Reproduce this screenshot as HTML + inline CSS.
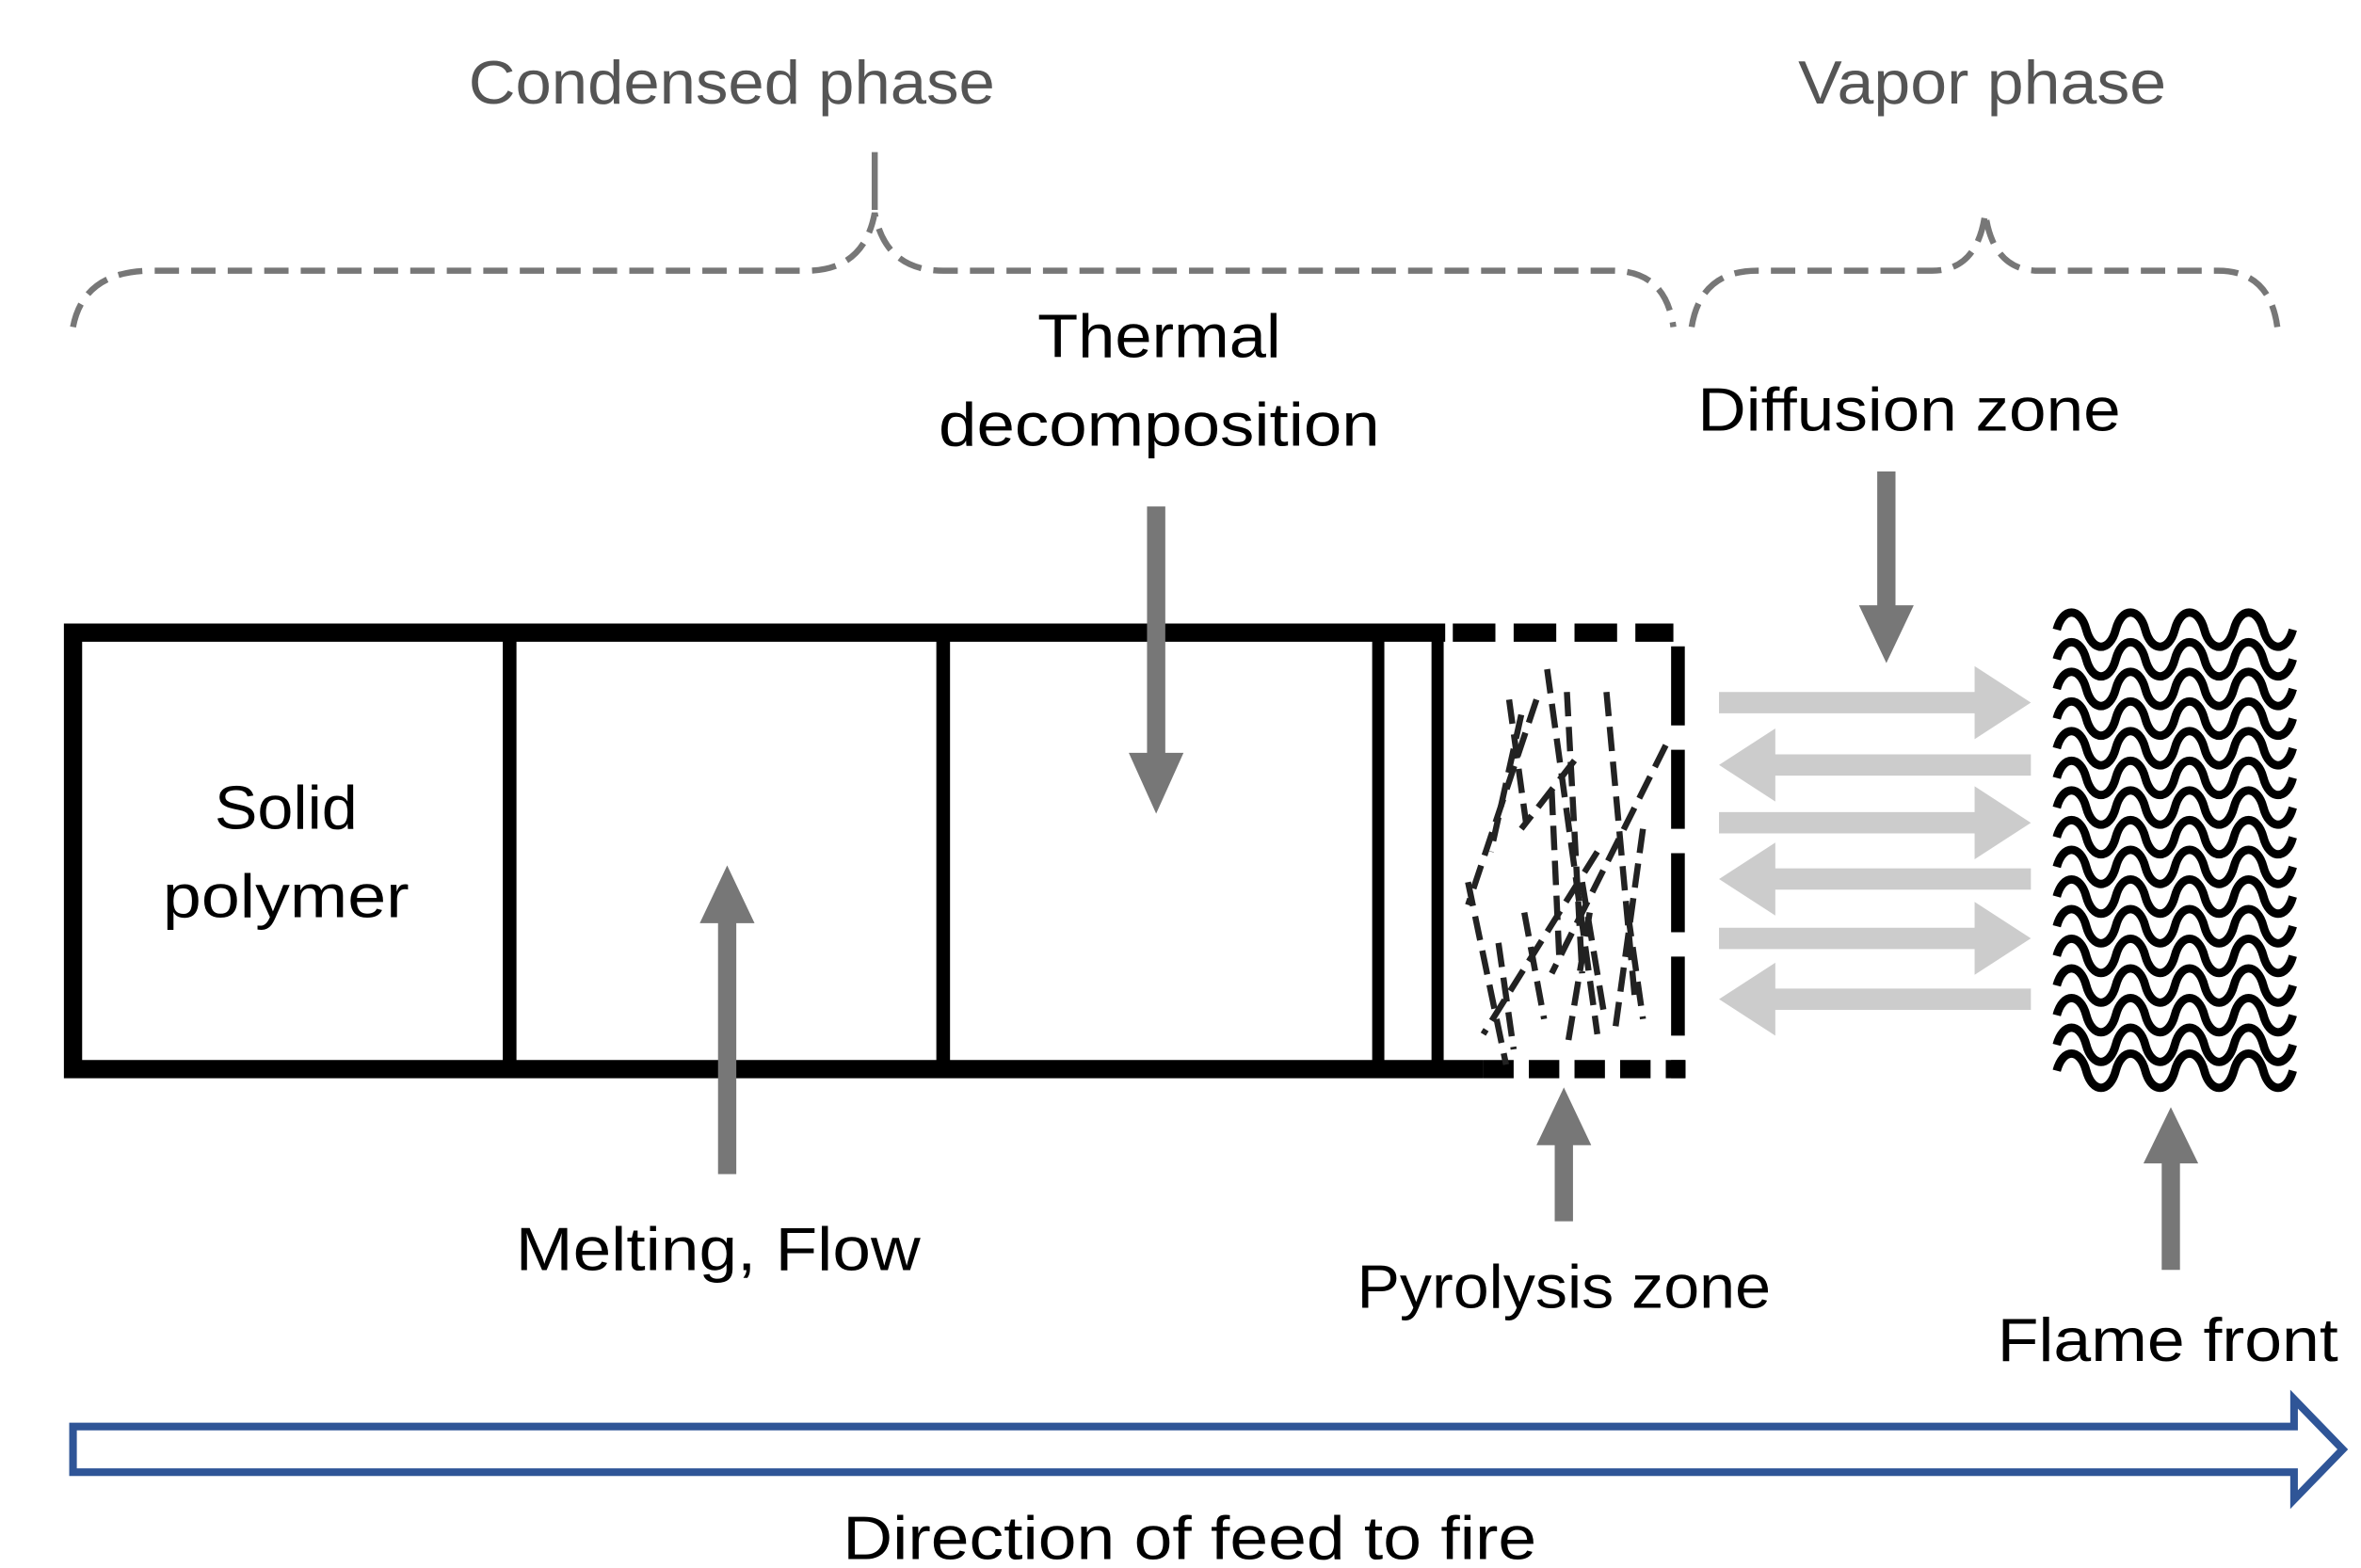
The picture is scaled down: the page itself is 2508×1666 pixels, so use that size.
<!DOCTYPE html>
<html><head><meta charset="utf-8"><style>html,body{margin:0;padding:0;background:#fff}svg{display:block}text{font-family:"Liberation Sans",sans-serif;font-size:40px}</style></head>
<body>
<svg width="2508" height="1666" viewBox="0 0 1552 1031" preserveAspectRatio="none" xmlns="http://www.w3.org/2000/svg">
<defs>
<path id="w" d="M1352,0 c4,-15 15.4,-15 19.4,0 c4,15 15.4,15 19.4,0 c4,-15 15.4,-15 19.4,0 c4,15 15.4,15 19.4,0 c4,-15 15.4,-15 19.4,0 c4,15 15.4,15 19.4,0 c4,-15 15.4,-15 19.4,0 c4,15 15.4,15 19.4,0" fill="none" stroke="#000" stroke-width="5.5"/>
</defs>
<rect width="1552" height="1031" fill="#fff"/>
<text x="481" y="68" text-anchor="middle" fill="#555" textLength="346" lengthAdjust="spacingAndGlyphs">Condensed phase</text>
<text x="1303" y="68" text-anchor="middle" fill="#555" textLength="242" lengthAdjust="spacingAndGlyphs">Vapor phase</text>
<g fill="none" stroke="#777" stroke-width="4" stroke-dasharray="16,8">
<path d="M48,215 Q55,178 100,178 L530,178 Q568,178 575,140 Q582,178 620,178 L1060,178 Q1095,178 1100,215"/>
<path d="M1112,215 Q1118,178 1155,178 L1270,178 Q1300,178 1305,140 Q1310,178 1340,178 L1458,178 Q1492,178 1497,215"/>
</g>
<line x1="575" y1="100" x2="575" y2="138" stroke="#777" stroke-width="4"/>
<text x="762" y="235" text-anchor="middle" textLength="160" lengthAdjust="spacingAndGlyphs">Thermal</text>
<text x="762" y="293" text-anchor="middle" textLength="290" lengthAdjust="spacingAndGlyphs">decomposition</text>
<text x="1255" y="283" text-anchor="middle" textLength="278" lengthAdjust="spacingAndGlyphs">Diffusion zone</text>
<text x="188" y="545" text-anchor="middle" textLength="94" lengthAdjust="spacingAndGlyphs">Solid</text>
<text x="188" y="603" text-anchor="middle" textLength="162" lengthAdjust="spacingAndGlyphs">polymer</text>
<text x="472" y="835" text-anchor="middle" textLength="266" lengthAdjust="spacingAndGlyphs">Melting, Flow</text>
<text x="1028" y="860" text-anchor="middle" textLength="272" lengthAdjust="spacingAndGlyphs">Pyrolysis zone</text>
<text x="1425" y="895" text-anchor="middle" textLength="224" lengthAdjust="spacingAndGlyphs">Flame front</text>
<text x="782" y="1025" text-anchor="middle" textLength="456" lengthAdjust="spacingAndGlyphs">Direction of feed to fire</text>
<g stroke="#000" fill="none">
<path d="M950,416 L48,416 L48,703 L975,703" stroke-width="12"/>
<line x1="335" y1="416" x2="335" y2="703" stroke-width="9"/>
<line x1="620" y1="416" x2="620" y2="703" stroke-width="9"/>
<line x1="906" y1="416" x2="906" y2="703" stroke-width="8"/>
<line x1="945" y1="416" x2="945" y2="703" stroke-width="8"/>
<line x1="955" y1="416" x2="1100" y2="416" stroke-width="12" stroke-dasharray="28,12"/>
<line x1="1103" y1="425" x2="1103" y2="709" stroke-width="9" stroke-dasharray="52,16"/>
<line x1="975" y1="703" x2="1108" y2="703" stroke-width="12" stroke-dasharray="20,10"/>
</g>
<g stroke="#222" stroke-width="4" stroke-dasharray="16,7" fill="none">
<line x1="992" y1="460" x2="1003" y2="540"/>
<line x1="1017" y1="440" x2="1050" y2="680"/>
<line x1="1030" y1="455" x2="1040" y2="640"/>
<line x1="1056" y1="455" x2="1075" y2="660"/>
<line x1="1095" y1="490" x2="1020" y2="640"/>
<line x1="1010" y1="460" x2="965" y2="595"/>
<line x1="1050" y1="560" x2="975" y2="680"/>
<line x1="965" y1="580" x2="990" y2="700"/>
<line x1="1002" y1="600" x2="1015" y2="670"/>
<line x1="1080" y1="545" x2="1062" y2="675"/>
<line x1="1035" y1="500" x2="1000" y2="545"/>
<line x1="1040" y1="580" x2="1055" y2="670"/>
<line x1="1000" y1="470" x2="980" y2="560"/>
<line x1="1020" y1="520" x2="1025" y2="630"/>
<line x1="1045" y1="600" x2="1030" y2="690"/>
<line x1="1070" y1="600" x2="1080" y2="670"/>
<line x1="985" y1="620" x2="995" y2="690"/>
</g>
<g>
<use href="#w" y="414"/><use href="#w" y="433.5"/><use href="#w" y="453"/><use href="#w" y="472.5"/>
<use href="#w" y="492"/><use href="#w" y="511.5"/><use href="#w" y="531"/><use href="#w" y="550.5"/>
<use href="#w" y="570"/><use href="#w" y="589.5"/><use href="#w" y="609"/><use href="#w" y="628.5"/>
<use href="#w" y="648"/><use href="#w" y="667.5"/><use href="#w" y="687"/><use href="#w" y="704"/>
</g>
<g fill="#cccccc">
<path d="M1130,455 h168 v-17 l37,24 l-37,24 v-17 h-168z"/>
<path d="M1130,534 h168 v-17 l37,24 l-37,24 v-17 h-168z"/>
<path d="M1130,610 h168 v-17 l37,24 l-37,24 v-17 h-168z"/>
<path d="M1335,496 h-168 v-17 l-37,24 l37,24 v-17 h168z"/>
<path d="M1335,571 h-168 v-17 l-37,24 l37,24 v-17 h168z"/>
<path d="M1335,650 h-168 v-17 l-37,24 l37,24 v-17 h168z"/>
</g>
<g fill="#777">
<path d="M754,333 h12 v162 h12 l-18,40 l-18,-40 h12z"/>
<path d="M1234,310 h12 v88 h12 l-18,38 l-18,-38 h12z"/>
<path d="M472,772 h12 v-165 h12 l-18,-38 l-18,38 h12z"/>
<path d="M1022,803 h12 v-50 h12 l-18,-38 l-18,38 h12z"/>
<path d="M1421,835 h12 v-70 h12 l-18,-37 l-18,37 h12z"/>
</g>
<path d="M48,938 H1508 V920 L1540,953 L1508,986 V968 H48 Z" fill="#fff" stroke="#2f5597" stroke-width="5" stroke-linejoin="miter"/>
</svg>
</body></html>
